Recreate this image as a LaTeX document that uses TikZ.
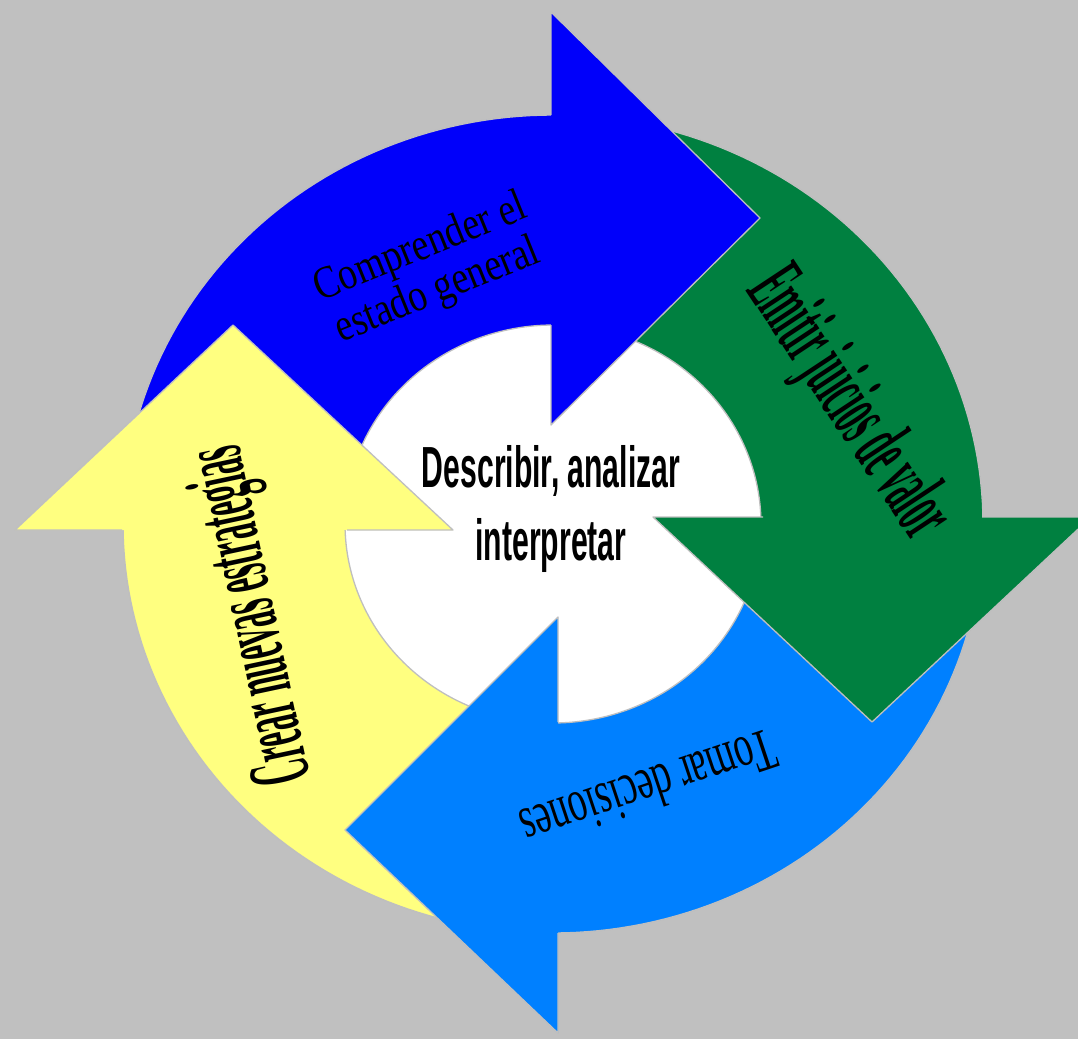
\documentclass[tikz,border=0pt]{standalone}
\usepackage{fontspec}
\setmainfont{Liberation Serif}
\newfontfamily\sansc{Liberation Sans}
\definecolor{bg}{RGB}{192,192,192}
\definecolor{cblue}{RGB}{0,0,250}
\definecolor{cgreen}{RGB}{0,128,64}
\definecolor{clight}{RGB}{0,128,255}
\definecolor{cyellow}{RGB}{255,255,128}
\begin{document}
\begin{tikzpicture}[x=1pt,y=-1pt,
  outl/.style={draw=black!25, line width=1.3pt, line join=round},
  lbl/.style={inner sep=0pt, text=black}]
\useasboundingbox (0,0) rectangle (1078,1039);
\fill[bg] (0,0) rectangle (1078,1039);
% white centre
\fill[white] (553,524) ellipse [x radius=208pt, y radius=199pt];
% shafts
\filldraw[fill=cblue, outl] plot[domain=180:90, samples=60] ({553+430*cos(\x)},{524-409*sin(\x)})
  -- plot[domain=90:180, samples=60] ({553+208*cos(\x)},{524-199*sin(\x)}) -- cycle;
\filldraw[fill=cgreen, outl] plot[domain=90:0, samples=60] ({553+430*cos(\x)},{524-409*sin(\x)})
  -- plot[domain=0:90, samples=60] ({553+208*cos(\x)},{524-199*sin(\x)}) -- cycle;
\filldraw[fill=clight, outl] plot[domain=0:-90, samples=60] ({553+430*cos(\x)},{524-409*sin(\x)})
  -- plot[domain=-90:0, samples=60] ({553+208*cos(\x)},{524-199*sin(\x)}) -- cycle;
\filldraw[fill=cyellow, outl] plot[domain=270:180, samples=60] ({553+430*cos(\x)},{524-409*sin(\x)})
  -- plot[domain=180:270, samples=60] ({553+208*cos(\x)},{524-199*sin(\x)}) -- cycle;
% heads
\fill[cblue] (551,12) -- (760,218) -- (551,425) -- cycle;
\draw[outl] (551,115) -- (551,12) -- (760,218) -- (551,425) -- (551,325);
\fill[cgreen] (653,517) -- (872,722) -- (1091,517) -- cycle;
\draw[outl] (763,517) -- (653,517) -- (872,722) -- (1091,517) -- (982,517);
\fill[clight] (558,617) -- (345,830) -- (558,1033) -- cycle;
\draw[outl] (558,722) -- (558,617) -- (345,830) -- (558,1033) -- (558,933);
\fill[cyellow] (15,530) -- (233,325) -- (453,530) -- cycle;
\draw[outl] (122,530) -- (15,530) -- (233,325) -- (453,530) -- (347,530);
% labels
\node[lbl] (centre) at (551,509) {\sansc\bfseries\fontsize{58}{73}\selectfont\scalebox{0.52}[1]{\begin{tabular}{@{}c@{}}Describir, analizar\\interpretar\end{tabular}}};
\node[lbl, rotate=22] (comp) at (430,272) {\fontsize{46}{46}\selectfont\scalebox{0.82}[1]{\begin{tabular}{@{}c@{}}Comprender el\\estado general\end{tabular}}};
\node[lbl, rotate=-56.5] (emit) at (847,405) {\bfseries\fontsize{88}{88}\selectfont\scalebox{0.36}[1]{Emitir juicios de valor}};
\node[lbl, rotate=198.5] (tomar) at (649,790) {\fontsize{60}{60}\selectfont\scalebox{0.63}[1]{Tomar decisiones}};
\node[lbl, rotate=102] (crear) at (254,615) {\bfseries\fontsize{88}{88}\selectfont\scalebox{0.37}[1]{Crear nuevas estrategias}};
\end{tikzpicture}
\end{document}
